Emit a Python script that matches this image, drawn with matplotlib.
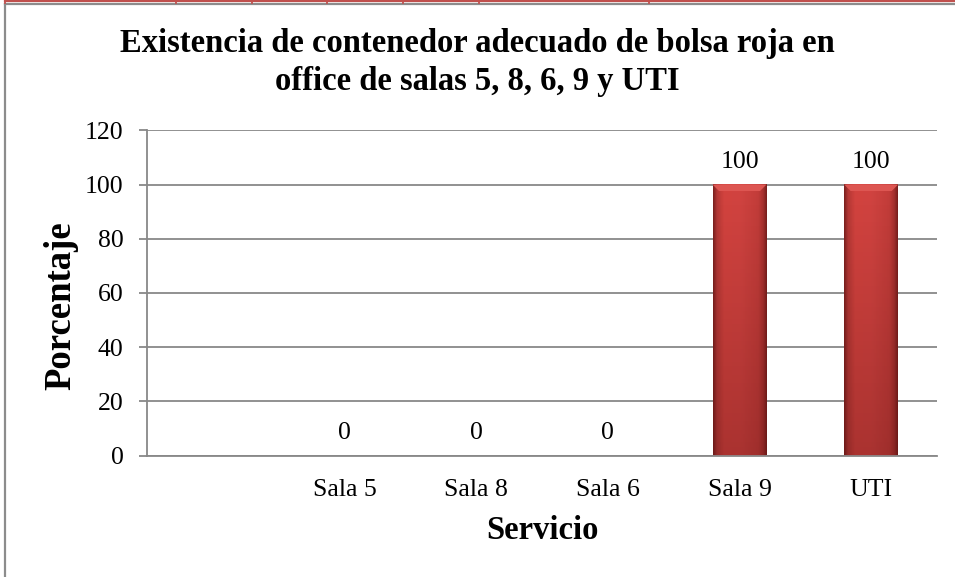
import numpy as np
import matplotlib
matplotlib.use("Agg")
from matplotlib import pyplot as plt
from matplotlib.colors import LinearSegmentedColormap

plt.rcParams['font.family'] = ['Liberation Serif', 'DejaVu Serif']

categories = ['', 'Sala 5', 'Sala 8', 'Sala 6', 'Sala 9', 'UTI']
values = [None, 0, 0, 0, 100, 100]
y_ticks = [0, 20, 40, 60, 80, 100, 120]
title_lines = ['Existencia de contenedor adecuado de bolsa roja en',
               'office de salas 5, 8, 6, 9 y UTI']

fig = plt.figure(figsize=(9.55, 5.77), dpi=100)
ax = fig.add_axes([147 / 955, 1 - 455.5 / 577, 790 / 955, 325.2 / 577])

x = np.arange(len(categories))
heights = [v if v is not None else 0 for v in values]
bars = ax.bar(x, heights, width=0.41, color='#C94542', zorder=2)

# bevel-like shading inside each bar
shade = LinearSegmentedColormap.from_list(
    'shade', [(0.0, '#7E2220'), (0.07, '#B53936'), (0.2, '#D4433F'),
              (0.5, '#D24441'), (0.85, '#C33D3A'), (0.94, '#A5302E'),
              (1.0, '#7A201E')])
fade = LinearSegmentedColormap.from_list(
    'fade', [(0.3, 0.05, 0.05, 0.0), (0.3, 0.05, 0.05, 0.3)])
grad = np.linspace(0, 1, 64).reshape(1, -1)
vgrad = np.linspace(0, 1, 64).reshape(-1, 1)
for b, v in zip(bars, values):
    if not v:
        continue
    x0, w, h = b.get_x(), b.get_width(), b.get_height()
    ax.imshow(grad, cmap=shade, aspect='auto', extent=(x0, x0 + w, 0, h),
              zorder=3)
    ax.imshow(vgrad, cmap=fade, aspect='auto', extent=(x0, x0 + w, 0, h),
              zorder=4)
    ax.fill([x0, x0 + w, x0 + w * 0.88, x0 + w * 0.12],
            [h, h, h - 2.4, h - 2.4], color='#DD5652', zorder=5, lw=0)

for xi, v in zip(x, values):
    if v is None:
        continue
    ax.annotate(f'{v:g}', (xi, v), xytext=(0, 8), textcoords='offset points',
                ha='center', va='bottom', fontsize=18.5)

ax.set_xlim(-0.5, len(categories) - 0.5)
ax.set_ylim(0, 120)
ax.set_yticks(y_ticks)
ax.set_xticks(x)
ax.set_xticklabels(categories)
ax.tick_params(axis='x', length=0, pad=17, labelsize=18.5)
ax.tick_params(axis='y', length=6, width=1.3, color='#888888', pad=11,
               labelsize=18.5)
ax.grid(axis='y', color='#888888', lw=1.3, zorder=0)
for s in ['top', 'right']:
    ax.spines[s].set_visible(False)
ax.spines['left'].set_color('#888888')
ax.spines['bottom'].set_color('#888888')
ax.spines['left'].set_linewidth(1.3)
ax.spines['bottom'].set_linewidth(1.3)

ax.set_xlabel('Servicio', fontsize=23.5, fontweight='bold', labelpad=10)
ax.set_ylabel('Porcentaje', fontsize=26.5, fontweight='bold')
ax.yaxis.set_label_coords(-0.087, 0.46)

fig.text(0.5, 1 - 52 / 577, title_lines[0], ha='center', va='baseline',
         fontsize=23.5, fontweight='bold')
fig.text(0.5, 1 - 90 / 577, title_lines[1], ha='center', va='baseline',
         fontsize=23.5, fontweight='bold')

# chart border and table line above it
fig.add_artist(plt.Line2D([5 / 955, 5 / 955], [0, 1 - 4 / 577],
                          transform=fig.transFigure, color='#8C8C8C', lw=1.6))
fig.add_artist(plt.Line2D([5 / 955, 1], [1 - 4 / 577, 1 - 4 / 577],
                          transform=fig.transFigure, color='#8C8C8C', lw=1.6))
fig.add_artist(plt.Line2D([5 / 955, 1], [1 - 1.2 / 577, 1 - 1.2 / 577],
                          transform=fig.transFigure, color='#C0504D', lw=1.6))
for px in [5, 176, 252, 327, 403, 479, 649]:
    fig.add_artist(plt.Line2D([px / 955, px / 955], [1 - 3 / 577, 1],
                              transform=fig.transFigure, color='#C0504D',
                              lw=1.3))

fig.savefig('out.png', dpi=100)
